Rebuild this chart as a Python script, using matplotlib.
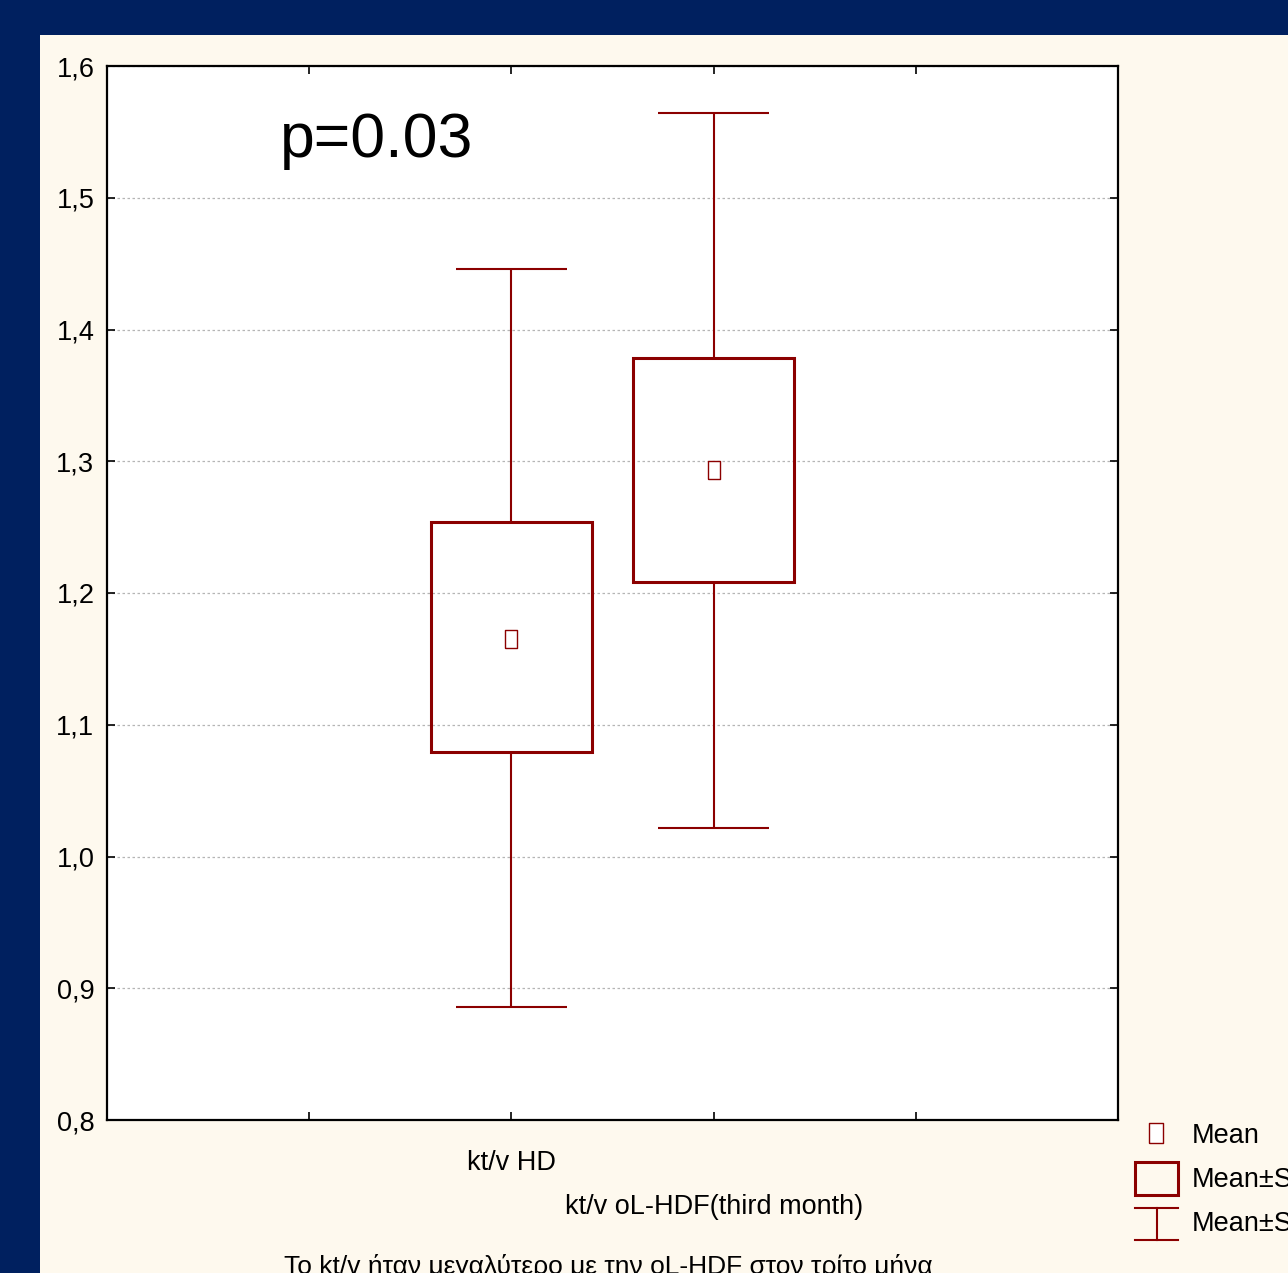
import numpy as np
import matplotlib
matplotlib.use('Agg')
import matplotlib.pyplot as plt
from matplotlib.patches import Rectangle
from matplotlib.lines import Line2D

# data
categories = ['kt/v HD', 'kt/v oL-HDF(third month)']
means = [1.165, 1.293]
se_low = [1.079, 1.208]
se_high = [1.254, 1.378]
sd_low = [0.886, 1.022]
sd_high = [1.446, 1.564]
y_ticks = [0.8, 0.9, 1.0, 1.1, 1.2, 1.3, 1.4, 1.5, 1.6]
y_tick_labels = ['0,8', '0,9', '1,0', '1,1', '1,2', '1,3', '1,4', '1,5', '1,6']
legend_labels = ['Mean', 'Mean±SE', 'Mean±SD']
p_text = 'p=0.03'
caption = 'Το kt/v ήταν μεγαλύτερο με την oL-HDF στον τρίτο μήνα'

plt.rcParams['font.family'] = ['Liberation Sans', 'DejaVu Sans']

RED = '#8B0000'
FS = 19.5
W, H = 1288, 1273
# tall narrow box used as the mean marker
MEAN_MARK = [(-0.35, -0.5), (0.35, -0.5), (0.35, 0.5), (-0.35, 0.5), (-0.35, -0.5)]

fig = plt.figure(figsize=(W / 100, H / 100), dpi=100, facecolor='#00205F')

# cream panel
fig.add_artist(Rectangle((40 / W, 0), 1 - 40 / W, (H - 35) / H, transform=fig.transFigure,
                         facecolor='#FEF9EE', edgecolor='none', zorder=0))

ax = fig.add_axes([107 / W, (H - 1120) / H, (1118 - 107) / W, (1120 - 66) / H])
ax.set_facecolor('white')
ax.set_zorder(1)

xpos = [2, 3]
box_w = 0.8
cap_w = 0.55
for x, m, lo, hi, dlo, dhi in zip(xpos, means, se_low, se_high, sd_low, sd_high):
    ax.vlines(x, dlo, lo, color=RED, lw=1.5, zorder=3)
    ax.vlines(x, hi, dhi, color=RED, lw=1.5, zorder=3)
    ax.hlines([dlo, dhi], x - cap_w / 2, x + cap_w / 2, color=RED, lw=1.5, zorder=3)
    ax.add_patch(Rectangle((x - box_w / 2, lo), box_w, hi - lo, facecolor='none',
                           edgecolor=RED, lw=2.2, zorder=3))
    ax.plot(x, m, marker=MEAN_MARK, ms=13, mfc='white', mec=RED, mew=1, ls='none', zorder=4)

ax.set_xlim(0, 5)
ax.set_ylim(0.8, 1.6)
ax.set_yticks(y_ticks)
ax.set_yticklabels(y_tick_labels)
ax.set_xticks([1, 2, 3, 4])
ax.set_xticklabels([])
ax.tick_params(direction='in', length=6, width=1.2, top=True, right=True,
               labelsize=FS, pad=9, colors='black')
ax.yaxis.grid(True, color='#B5B5B5', lw=0.9, ls=(0, (2, 2)))
ax.set_axisbelow(True)
for s in ax.spines.values():
    s.set_linewidth(1.6)
    s.set_color('black')

# staggered category labels
trans = ax.get_xaxis_transform()
ax.text(xpos[0], -0.041, categories[0], transform=trans, ha='center', va='center', fontsize=FS)
ax.text(xpos[1], -0.0825, categories[1], transform=trans, ha='center', va='center', fontsize=FS)

ax.text(0.171, 0.914, p_text, transform=ax.transAxes, ha='left', va='baseline', fontsize=45)

# caption cut off by figure edge
fig.text(608 / W, -0.001, caption, ha='center', va='baseline', fontsize=19, zorder=2)

# legend drawn by hand
lax = fig.add_axes([1118 / W, 0, 170 / W, 160 / H])
lax.set_xlim(1118, 1288)
lax.set_ylim(1273, 1113)
lax.axis('off')
lax.set_zorder(2)
lax.plot(1156, 1133, marker=MEAN_MARK, ms=15, mfc='white', mec=RED, mew=1, ls='none')
lax.add_patch(Rectangle((1135, 1162), 43, 33, facecolor='none', edgecolor=RED, lw=2.2))
lax.add_line(Line2D([1135, 1178], [1208, 1208], color=RED, lw=1.5))
lax.add_line(Line2D([1135, 1178], [1240, 1240], color=RED, lw=1.5))
lax.add_line(Line2D([1156.5, 1156.5], [1208, 1240], color=RED, lw=1.5))
for lbl, yy in zip(legend_labels, [1136, 1180, 1224]):
    lax.text(1192, yy, lbl, ha='left', va='center', fontsize=FS, clip_on=False)

fig.savefig('out.png', dpi=100, facecolor=fig.get_facecolor())
